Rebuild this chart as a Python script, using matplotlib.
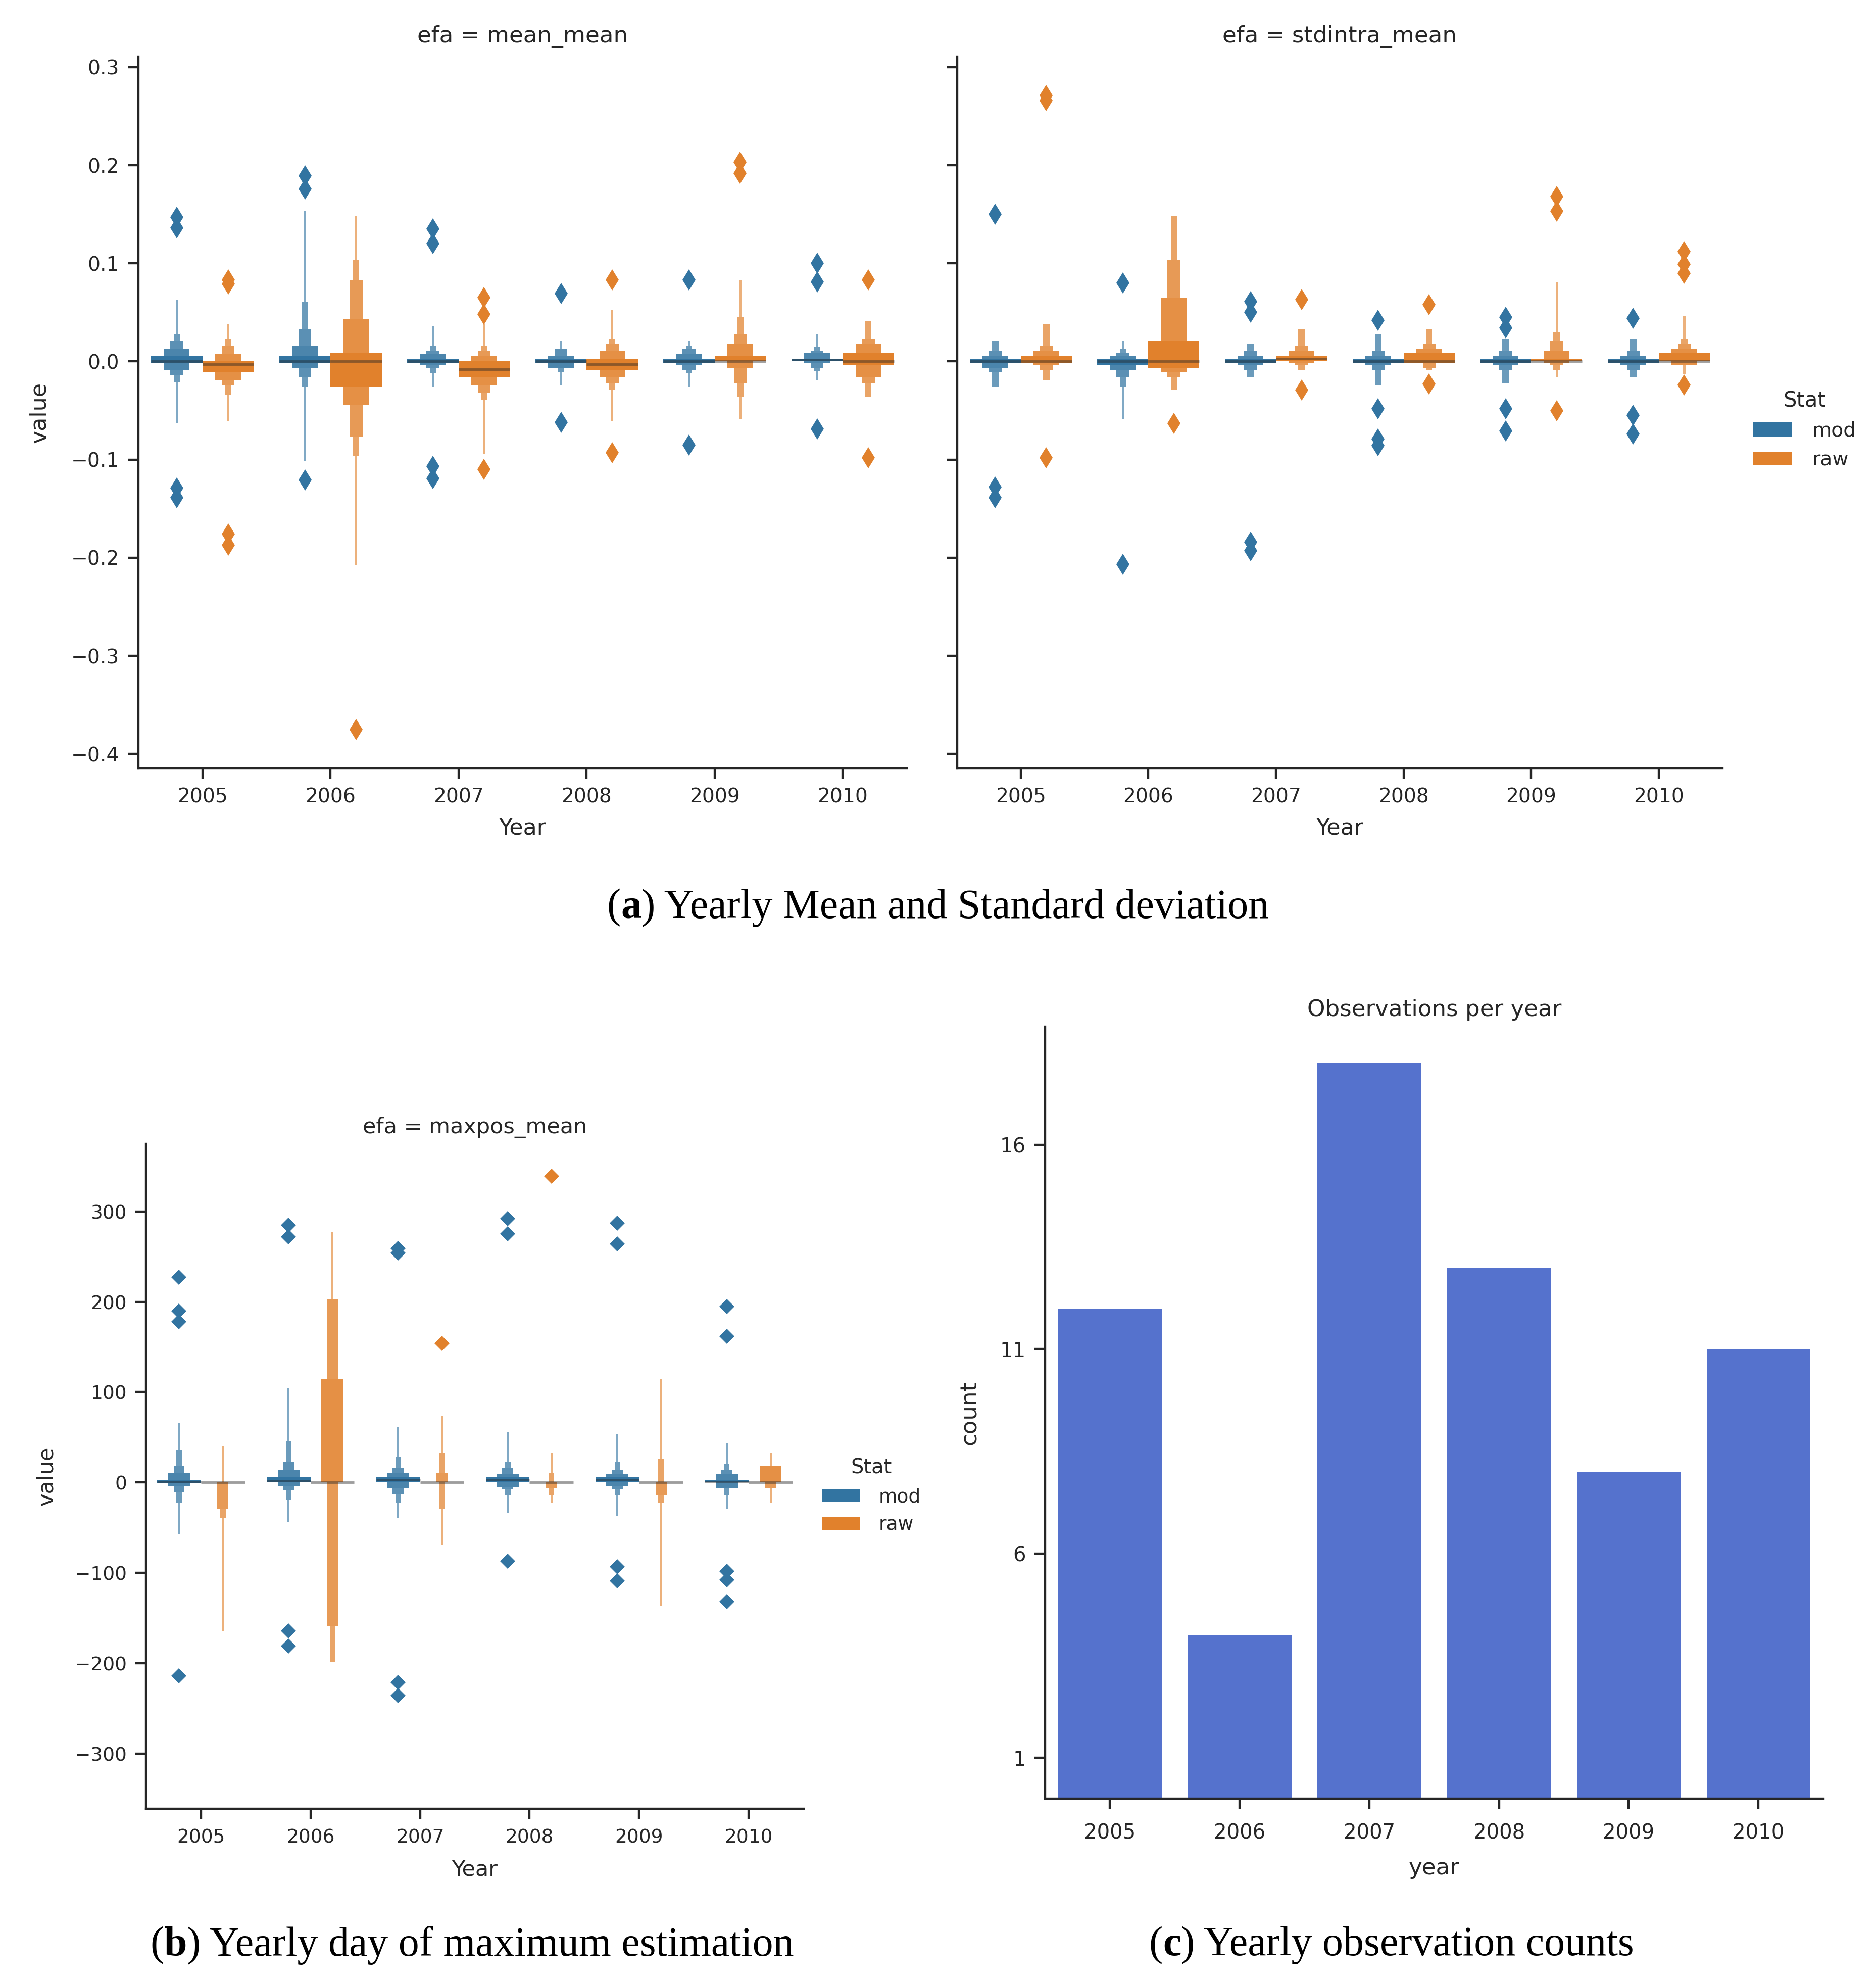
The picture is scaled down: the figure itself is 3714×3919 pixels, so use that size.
import numpy as np
import matplotlib
matplotlib.use("Agg")
import matplotlib.pyplot as plt
import matplotlib.colors as mcolors
from matplotlib.patches import Patch

YEARS = ["2005", "2006", "2007", "2008", "2009", "2010"]
STATS = ["mod", "raw"]

# letter-value boxes per year: five levels from the quartile box outwards, [low, high]
MEAN_MOD_MED = [0.0, 0.0, 0.0, 0.0, 0.0, 0.002]
MEAN_MOD_LV = [
    [[-0.002, 0.006], [-0.009, 0.013], [-0.014, 0.021], [-0.021, 0.028], [-0.063, 0.063]],
    [[-0.002, 0.006], [-0.007, 0.016], [-0.016, 0.033], [-0.026, 0.061], [-0.101, 0.153]],
    [[-0.002, 0.003], [-0.004, 0.008], [-0.007, 0.011], [-0.012, 0.016], [-0.026, 0.036]],
    [[-0.002, 0.003], [-0.007, 0.006], [-0.007, 0.013], [-0.011, 0.013], [-0.024, 0.021]],
    [[-0.002, 0.003], [-0.004, 0.008], [-0.009, 0.013], [-0.012, 0.016], [-0.026, 0.021]],
    [[0.001, 0.003], [-0.002, 0.0085], [-0.007, 0.011], [-0.010, 0.015], [-0.019, 0.028]],
]
MEAN_MOD_OUT = [[0.147, 0.136, -0.129, -0.139], [0.189, 0.176, -0.121], [0.135, 0.120, -0.107, -0.119],
                [0.069, -0.062], [0.083, -0.085], [0.100, 0.081, -0.069]]

MEAN_RAW_MED = [-0.003, 0.0, -0.008, -0.003, 0.0, 0.0]
MEAN_RAW_LV = [
    [[-0.011, 0.0005], [-0.019, 0.008], [-0.024, 0.016], [-0.034, 0.023], [-0.061, 0.038]],
    [[-0.026, 0.0085], [-0.044, 0.043], [-0.077, 0.083], [-0.096, 0.103], [-0.208, 0.148]],
    [[-0.016, 0.0005], [-0.024, 0.006], [-0.032, 0.011], [-0.039, 0.016], [-0.094, 0.038]],
    [[-0.009, 0.003], [-0.016, 0.011], [-0.022, 0.018], [-0.029, 0.023], [-0.061, 0.053]],
    [[0.001, 0.006], [-0.007, 0.018], [-0.022, 0.028], [-0.036, 0.045], [-0.059, 0.083]],
    [[-0.004, 0.0085], [-0.016, 0.018], [-0.022, 0.023], [-0.036, 0.041], [-0.036, 0.041]],
]
MEAN_RAW_OUT = [[0.083, 0.079, -0.176, -0.187], [-0.375], [0.065, 0.048, -0.110],
                [0.083, -0.093], [0.203, 0.192], [0.083, -0.098]]

STD_MOD_MED = [0.0, 0.0, 0.0, 0.0, 0.0, 0.0]
STD_MOD_LV = [
    [[-0.002, 0.003], [-0.007, 0.006], [-0.011, 0.011], [-0.026, 0.021], [-0.026, 0.021]],
    [[-0.004, 0.003], [-0.009, 0.006], [-0.016, 0.0085], [-0.026, 0.013], [-0.059, 0.021]],
    [[-0.002, 0.003], [-0.004, 0.006], [-0.009, 0.011], [-0.016, 0.018], [-0.016, 0.018]],
    [[-0.002, 0.003], [-0.004, 0.006], [-0.009, 0.011], [-0.024, 0.028], [-0.024, 0.028]],
    [[-0.002, 0.003], [-0.004, 0.006], [-0.009, 0.011], [-0.022, 0.023], [-0.022, 0.023]],
    [[-0.002, 0.003], [-0.004, 0.006], [-0.009, 0.011], [-0.016, 0.023], [-0.016, 0.023]],
]
STD_MOD_OUT = [[0.150, -0.128, -0.139], [0.080, -0.207], [0.061, 0.050, -0.184, -0.193],
               [0.042, -0.048, -0.079, -0.086], [0.045, 0.034, -0.048, -0.071], [0.044, -0.055, -0.074]]

STD_RAW_MED = [0.0, 0.0, 0.003, 0.0, 0.0, 0.0]
STD_RAW_LV = [
    [[-0.002, 0.006], [-0.004, 0.011], [-0.009, 0.016], [-0.019, 0.038], [-0.019, 0.038]],
    [[-0.007, 0.021], [-0.011, 0.065], [-0.016, 0.103], [-0.029, 0.148], [-0.029, 0.148]],
    [[0.001, 0.006], [-0.002, 0.011], [-0.004, 0.016], [-0.009, 0.033], [-0.009, 0.033]],
    [[-0.002, 0.0085], [-0.002, 0.013], [-0.007, 0.018], [-0.009, 0.033], [-0.009, 0.033]],
    [[0.001, 0.003], [-0.002, 0.011], [-0.004, 0.021], [-0.009, 0.030], [-0.016, 0.081]],
    [[0.001, 0.0085], [-0.004, 0.013], [-0.004, 0.018], [-0.004, 0.023], [-0.013, 0.046]],
]
STD_RAW_OUT = [[0.271, 0.266, -0.098], [-0.063], [0.063, -0.029], [0.058, -0.023],
               [0.168, 0.153, -0.050], [0.112, 0.099, 0.090, -0.024]]

MAXPOS_MOD_MED = [1, 2, 3, 3, 3, 1]
MAXPOS_MOD_LV = [
    [[-1, 3], [-4, 10], [-11, 18], [-22, 36], [-57, 66]],
    [[0, 6], [-4, 14], [-9, 23], [-19, 46], [-44, 104]],
    [[1, 6], [-6, 10], [-13, 16], [-22, 28], [-39, 61]],
    [[1, 6], [-5, 9], [-7, 16], [-14, 23], [-34, 56]],
    [[1, 6], [-4, 9], [-7, 14], [-14, 23], [-37, 54]],
    [[0, 3], [-6, 9], [-6, 14], [-14, 21], [-29, 44]],
]
MAXPOS_MOD_OUT = [[227, 190, 178, -214], [285, 272, -164, -181], [259, 254, -221, -236],
                  [292, 275, -87], [287, 264, -93, -109], [195, 162, -98, -108, -132]]

MAXPOS_RAW_MED = [0, 0, 0, 0, 0, 0]
MAXPOS_RAW_LV = [
    [[0, 0], [0, 0], [-29, 0], [-39, 0], [-165, 40]],
    [[0, 0], [0, 114], [-159, 203], [-199, 203], [-199, 277]],
    [[0, 0], [0, 0], [0, 10], [-29, 33], [-69, 74]],
    [[0, 0], [0, 0], [-6, 0], [-14, 10], [-22, 33]],
    [[0, 0], [0, 0], [-14, 0], [-22, 26], [-136, 114]],
    [[0, 0], [0, 18], [-6, 18], [-6, 18], [-22, 33]],
]
MAXPOS_RAW_OUT = [[], [], [154], [339], [], []]

COUNTS = [12, 4, 18, 13, 8, 11]

BLUE = "#3274a1"
ORANGE = "#e1812c"
BAR_COLOR = "#5572cd"
INK = "0.15"

LEVEL_WIDTHS = [0.4, 0.2, 0.1, 0.05, 0.018]
LEVEL_FADE = [0.0, 0.12, 0.2, 0.28, 0.38]

plt.rcParams.update({
    "font.family": "DejaVu Sans",
    "axes.linewidth": 1.25,
    "axes.edgecolor": INK,
    "xtick.major.size": 6,
    "ytick.major.size": 6,
    "xtick.major.width": 1.25,
    "ytick.major.width": 1.25,
    "xtick.major.pad": 5,
    "ytick.major.pad": 5,
    "xtick.color": INK,
    "ytick.color": INK,
    "text.color": INK,
    "axes.labelcolor": INK,
    "axes.spines.top": False,
    "axes.spines.right": False,
})


def fade(c, t):
    rgb = np.array(mcolors.to_rgb(c))
    return tuple(rgb + (1 - rgb) * t)


def boxen(ax, medians, levels, outliers, off, color, marker, ms):
    for j in range(len(YEARS)):
        x = j + off
        for i in reversed(range(len(LEVEL_WIDTHS))):
            lo, hi = levels[j][i]
            ax.bar(x, hi - lo, width=LEVEL_WIDTHS[i], bottom=lo,
                   color=fade(color, LEVEL_FADE[i]), linewidth=0, zorder=2)
        ax.plot([x - 0.2, x + 0.2], [medians[j], medians[j]], color=INK,
                alpha=0.45, lw=1.4, solid_capstyle="butt", zorder=3)
        if outliers[j]:
            ax.plot([x] * len(outliers[j]), outliers[j], ls="none", marker=marker,
                    ms=ms, color=color, mew=0, zorder=4)


def style_axes(ax, tsize):
    ax.set_xlim(-0.5, 5.5)
    ax.set_xticks(range(len(YEARS)))
    ax.set_xticklabels(YEARS)
    ax.tick_params(labelsize=tsize)


fig = plt.figure(figsize=(3714 / 250, 3919 / 250), dpi=250)

# (a) mean and std
ax1 = fig.add_axes([0.0738, 0.6120, 0.4095, 0.3594])
ax2 = fig.add_axes([0.5101, 0.6120, 0.4081, 0.3594], sharey=ax1)
for ax, name, mm, ml, mo, rm, rl, ro in [
        (ax1, "mean_mean", MEAN_MOD_MED, MEAN_MOD_LV, MEAN_MOD_OUT, MEAN_RAW_MED, MEAN_RAW_LV, MEAN_RAW_OUT),
        (ax2, "stdintra_mean", STD_MOD_MED, STD_MOD_LV, STD_MOD_OUT, STD_RAW_MED, STD_RAW_LV, STD_RAW_OUT)]:
    boxen(ax, mm, ml, mo, -0.2, BLUE, "d", 8.6)
    boxen(ax, rm, rl, ro, 0.2, ORANGE, "d", 8.6)
    style_axes(ax, 11.3)
    ax.set_title("efa = " + name, fontsize=13, pad=8)
    ax.set_xlabel("Year", fontsize=12.8, labelpad=6)
ax1.set_ylim(-0.4146, 0.3107)
ax1.set_yticks([0.3, 0.2, 0.1, 0.0, -0.1, -0.2, -0.3, -0.4])
ax1.set_ylabel("value", fontsize=12.8, labelpad=12)
ax2.tick_params(labelleft=False)

handles = [Patch(facecolor=BLUE, label="mod"), Patch(facecolor=ORANGE, label="raw")]
fig.legend(handles=handles, title="Stat", loc="upper left", bbox_to_anchor=(0.929, 0.808),
           frameon=False, fontsize=11.3, title_fontsize=12, handletextpad=1.0, borderpad=0)

# (b) day of maximum
ax3 = fig.add_axes([0.0779, 0.0865, 0.3504, 0.3359])
boxen(ax3, MAXPOS_MOD_MED, MAXPOS_MOD_LV, MAXPOS_MOD_OUT, -0.2, BLUE, "D", 6.3)
boxen(ax3, MAXPOS_RAW_MED, MAXPOS_RAW_LV, MAXPOS_RAW_OUT, 0.2, ORANGE, "D", 6.3)
style_axes(ax3, 10.8)
ax3.set_ylim(-361, 375)
ax3.set_yticks([-300, -200, -100, 0, 100, 200, 300])
ax3.set_title("efa = maxpos_mean", fontsize=12.4)
ax3.set_xlabel("Year", fontsize=12.4, labelpad=7)
ax3.set_ylabel("value", fontsize=12.4, labelpad=10)
fig.legend(handles=handles, title="Stat", loc="upper left", bbox_to_anchor=(0.433, 0.2685),
           frameon=False, fontsize=10.8, title_fontsize=11.5, handletextpad=1.0, borderpad=0)

# (c) counts
ax4 = fig.add_axes([0.5571, 0.0916, 0.4148, 0.3900])
ax4.bar(range(len(YEARS)), COUNTS, width=0.8, color=BAR_COLOR, zorder=2)
style_axes(ax4, 11.6)
ax4.tick_params(axis="x", pad=8)
ax4.set_ylim(0, 18.9)
ax4.set_yticks([1, 6, 11, 16])
ax4.set_title("Observations per year", fontsize=13)
ax4.set_xlabel("year", fontsize=13, labelpad=8)
ax4.set_ylabel("count", fontsize=13, labelpad=11)


def caption(xc, y, letter, rest, size=23.6):
    renderer = fig.canvas.get_renderer()
    parts = [("(", "normal"), (letter, "bold"), (") " + rest, "normal")]
    texts = [fig.text(0, y, s, fontsize=size, family="Liberation Serif", weight=w,
                      va="center", color="black") for s, w in parts]
    widths = [t.get_window_extent(renderer).width for t in texts]
    fw = fig.get_figwidth() * fig.dpi
    x = xc * fw - sum(widths) / 2
    for t, w in zip(texts, widths):
        t.set_x(x / fw)
        x += w


caption(0.5, 0.5415, "a", "Yearly Mean and Standard deviation")
caption(0.2517, 0.0175, "b", "Yearly day of maximum estimation")
caption(0.7417, 0.0175, "c", "Yearly observation counts")

fig.savefig("out.png", dpi=250)
